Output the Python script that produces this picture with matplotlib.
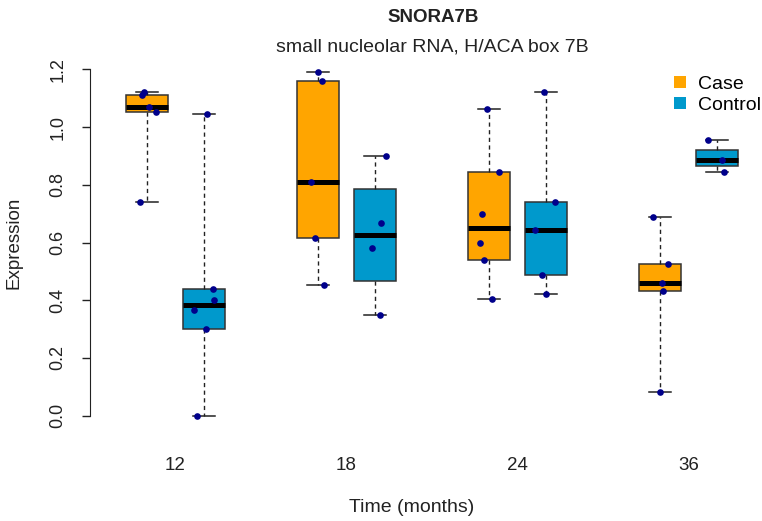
import numpy as np
import matplotlib
matplotlib.use("Agg")
import matplotlib.pyplot as plt
from matplotlib.lines import Line2D

plt.rcParams['font.family'] = ['Liberation Sans', 'DejaVu Sans']

# ---- data ----
time_labels = ["12", "18", "24", "36"]
groups = ["Case", "Control"]
case_12 = [1.122, 1.110, 1.069, 1.052, 0.741]
ctrl_12 = [1.047, 0.439, 0.401, 0.365, 0.300, 0.000]
case_18 = [1.191, 1.161, 0.810, 0.617, 0.452]
ctrl_18 = [0.900, 0.668, 0.581, 0.349]
case_24 = [1.064, 0.846, 0.700, 0.600, 0.541, 0.404]
ctrl_24 = [1.123, 0.740, 0.643, 0.486, 0.423]
case_36 = [0.690, 0.527, 0.460, 0.431, 0.083]
ctrl_36 = [0.954, 0.887, 0.844]
# horizontal jitter of the points (box-width units)
jit_case_12 = [-0.06, -0.09, 0.03, 0.16, -0.12]
jit_ctrl_12 = [0.05, 0.16, 0.18, -0.18, 0.04, -0.12]
jit_case_18 = [0.00, 0.07, -0.13, -0.05, 0.11]
jit_ctrl_18 = [0.19, 0.11, -0.05, 0.08]
jit_case_24 = [-0.04, 0.18, -0.12, -0.15, -0.09, 0.06]
jit_ctrl_24 = [-0.04, 0.15, -0.20, -0.07, 0.00]
jit_case_36 = [-0.12, 0.14, 0.04, 0.06, 0.00]
jit_ctrl_36 = [-0.16, 0.09, 0.12]

series = [case_12, ctrl_12, case_18, ctrl_18, case_24, ctrl_24, case_36, ctrl_36]
jitters = [jit_case_12, jit_ctrl_12, jit_case_18, jit_ctrl_18,
           jit_case_24, jit_ctrl_24, jit_case_36, jit_ctrl_36]
colors = {"Case": "#FFA500", "Control": "#0099CC"}


def fivenum(v):
    x = np.sort(np.asarray(v, float))
    n = len(x)
    n4 = np.floor((n + 3) / 2) / 2
    d = np.array([1, n4, (n + 1) / 2, n + 1 - n4, n]) - 1
    return 0.5 * (x[np.floor(d).astype(int)] + x[np.ceil(d).astype(int)])


W, H = 762, 521
fig = plt.figure(figsize=(W / 100, H / 100), dpi=100)

allv = np.concatenate([np.asarray(s) for s in series])
r = allv.max() - allv.min()
ylim = (allv.min() - 0.04 * r, allv.max() + 0.04 * r)

ax_left, ax_right = 90, 774
ax_top, ax_bot = 58.2, 429.4
ax = fig.add_axes([ax_left / W, 1 - ax_bot / H, (ax_right - ax_left) / W, (ax_bot - ax_top) / H])
ax.set_xlim(0, 12)
ax.set_ylim(*ylim)

positions = []
stats = []
for i, s in enumerate(series):
    pos = (i // 2) * 3 + 1 + (i % 2)
    positions.append(pos)
    f = fivenum(s)
    stats.append(dict(whislo=f[0], q1=f[1], med=f[2], q3=f[3], whishi=f[4], fliers=[]))

bp = ax.bxp(stats, positions=positions, widths=0.75, capwidths=0.375,
            patch_artist=True, showfliers=False,
            boxprops=dict(edgecolor="#333333", linewidth=1.1),
            medianprops=dict(color="black", linewidth=3.6, solid_capstyle="butt"),
            whiskerprops=dict(color="#222222", linewidth=1.0, linestyle=(0, (3, 2.5))),
            capprops=dict(color="#222222", linewidth=1.1))
for i, b in enumerate(bp["boxes"]):
    b.set_facecolor(colors[groups[i % 2]])

for pos, s, j in zip(positions, series, jitters):
    ax.plot(np.asarray(j) + pos, s, 'o', color="#00008B", markersize=4.8,
            markeredgewidth=0, zorder=5, linestyle="none")

for sp in ["top", "right", "bottom"]:
    ax.spines[sp].set_visible(False)
ax.spines["left"].set_bounds(0, 1.2)
ax.spines["left"].set_color("#222222")
yt = np.arange(0, 1.21, 0.2)
ax.set_yticks(yt)
ax.set_yticklabels([f"{v:.1f}" for v in yt], rotation=90, va="center")
ax.tick_params(axis="y", length=6, width=1, color="#222222", pad=11, labelsize=13,
               labelcolor="#222222")
ax.set_xticks([1.5, 4.5, 7.5, 10.5])
ax.set_xticklabels(time_labels)
ax.tick_params(axis="x", length=0, pad=20, labelsize=13.5, labelcolor="#222222")

fig.text(433 / W, 1 - 17 / H, "SNORA7B", ha="center", va="center",
         fontsize=13.5, fontweight="bold", color="#222222")
fig.text(432 / W, 1 - 47 / H, "small nucleolar RNA, H/ACA box 7B", ha="center",
         va="center", fontsize=14, color="#222222")
fig.text(412 / W, 1 - 508 / H, "Time (months)", ha="center", va="center",
         fontsize=14, color="#222222")
fig.text(14 / W, 1 - 243 / H, "Expression", ha="center", va="center",
         rotation=90, fontsize=13.5, color="#222222")

handles = [Line2D([], [], marker="s", linestyle="none", markersize=8,
                  markerfacecolor=colors[g], markeredgewidth=0) for g in groups]
fig.legend(handles, groups, loc="upper left", bbox_to_anchor=(673 / W, 1 - 75 / H),
           frameon=False, fontsize=14, handlelength=0.7, handletextpad=0.6,
           labelspacing=0.2, borderpad=0, borderaxespad=0)

fig.savefig("out.png", dpi=100)
